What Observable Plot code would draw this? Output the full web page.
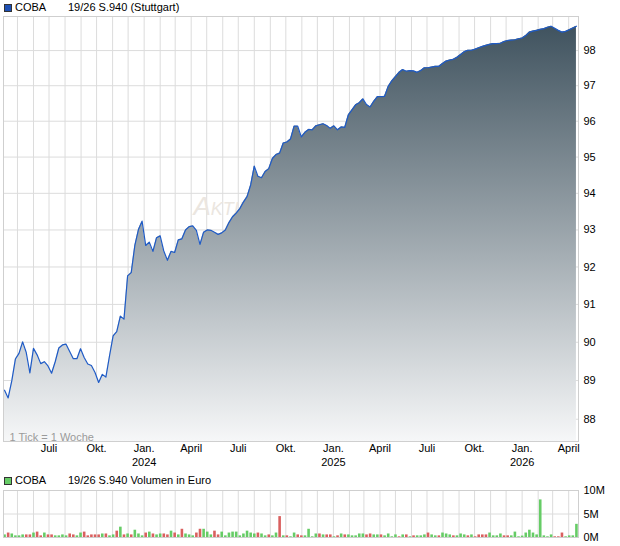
<!DOCTYPE html>
<html><head><meta charset="utf-8">
<script src="https://cdn.jsdelivr.net/npm/d3@7"></script>
<script src="https://cdn.jsdelivr.net/npm/@observablehq/plot@0.6"></script>
<style>
body{margin:0;background:#fff;font-family:"Liberation Sans",Arial,sans-serif;}
#wrap{position:relative;width:620px;height:546px;overflow:hidden;background:#fff}
.t{position:absolute;font-size:11px;line-height:13px;color:#000;white-space:nowrap}
.sq{position:absolute;width:6px;height:6px;border:1px solid #333}
#main,#vol{position:absolute;left:0}
#main{top:0}#vol{top:485px}
</style></head><body>
<div id="wrap">
  <div class="sq" style="left:4px;top:4px;background:#1d50b4"></div>
  <div class="t" style="left:15px;top:1px">COBA</div>
  <div class="t" style="left:68px;top:1px">19/26 S.940 (Stuttgart)</div>
  <div id="main"></div>
  <div class="sq" style="left:4px;top:477px;background:#66cc66"></div>
  <div class="t" style="left:15px;top:474px">COBA</div>
  <div class="t" style="left:68px;top:474px">19/26 S.940 Volumen in Euro</div>
  <div id="vol"></div>
</div>
<script>
// ---- data ----
const firstWeek = "2023-04-06";            // first weekly tick
const prices = [
88.75,88.55,88.99,89.56,89.71,90.01,89.73,89.20,89.84,89.67,
89.44,89.49,89.38,89.19,89.49,89.85,89.93,89.95,89.76,89.57,
89.57,89.83,89.60,89.43,89.39,89.21,88.95,89.16,89.09,89.64,
90.17,90.28,90.69,90.61,91.76,91.85,92.58,93.01,93.24,92.58,
92.67,92.42,92.79,92.84,92.43,92.18,92.42,92.39,92.73,92.76,
93.00,93.09,93.11,92.99,92.61,92.94,93.00,92.99,92.94,92.88,
92.92,93.00,93.20,93.36,93.46,93.58,93.76,93.91,94.23,94.75,
94.47,94.43,94.60,94.68,94.96,95.07,95.11,95.39,95.42,95.50,
95.86,95.86,95.56,95.69,95.77,95.76,95.87,95.90,95.93,95.88,
95.80,95.87,95.76,95.84,95.83,96.18,96.32,96.46,96.52,96.63,
96.47,96.40,96.56,96.69,96.69,96.70,96.98,97.14,97.26,97.38,
97.46,97.41,97.43,97.42,97.38,97.43,97.51,97.51,97.53,97.55,
97.55,97.63,97.70,97.73,97.75,97.81,97.89,97.97,98.01,98.01,
98.04,98.08,98.12,98.15,98.18,98.20,98.20,98.21,98.26,98.29,
98.30,98.31,98.34,98.36,98.43,98.53,98.56,98.58,98.61,98.63,
98.67,98.70,98.64,98.58,98.53,98.55,98.60,98.65,98.70];
const volumesM = [
.55,.95,.75,.35,.35,.55,.55,.55,.95,1.15,
.35,.95,.55,.55,.35,.35,.55,.35,.75,.55,
.35,.95,1.15,.35,.55,.55,.55,.75,.75,.35,
.55,1.35,2.2,.55,.75,.55,1.55,.75,.35,.95,
1.15,.75,.55,.75,.75,.55,1.35,.95,.55,1.75,
.75,.55,.35,.95,1.75,1.75,1.15,.55,1.35,.55,
1.15,.35,.95,1.15,1.15,.35,.75,1.35,.95,.75,
.95,.75,.35,.55,.35,.95,4.45,.35,.35,.15,
.95,.55,.35,.35,1.75,.15,.75,.75,.55,.55,
.55,.15,.35,.75,.55,.55,.35,.35,.75,.75,
.55,.75,.55,.55,.55,.35,.75,.15,.55,.15,
.55,.55,.15,.35,.35,.35,.55,.95,.55,.35,
.35,.95,.75,.55,.35,.35,.75,.55,.35,.55,
.15,.55,.55,.55,.95,.35,.35,.75,.35,.35,
.35,1.15,.15,.3,.95,1.55,.95,.55,8.0,.35,
.15,.55,.15,.15,.95,.15,.35,.35,2.8];
const volumeUp = [
1,0,1,1,1,1,0,0,1,0, 0,1,0,0,1,1,1,1,0,0,
1,1,0,0,0,0,0,1,0,1, 1,0,1,0,1,0,1,1,1,0,
1,0,1,1,0,0,1,0,1,0, 1,1,1,0,0,1,1,1,0,0,
1,1,1,1,1,1,1,1,1,1, 0,1,1,0,1,1,0,1,0,1,
1,0,0,1,1,1,1,0,1,0, 0,1,0,1,0,1,1,1,1,1,
0,0,1,1,0,1,1,1,1,0, 1,0,1,0,1,1,1,0,1,1,
0,1,1,1,0,1,1,1,0,1, 0,0,0,0,1,1,1,1,0,0,
1,1,1,1,1,1,1,1,1,1, 1,1,0,0,0,1,1,1,1];
const priceTicks = [88,89,90,91,92,93,94,95,96,97,98];
const volumeTicks = [0,5,10];
const quarterDates = ["2023-07-01","2023-10-01","2024-01-01","2024-04-01","2024-07-01","2024-10-01","2025-01-01","2025-04-01","2025-07-01","2025-10-01","2026-01-01","2026-04-01"];
const quarterLabels = ["Juli","Okt.","Jan.","April","Juli","Okt.","Jan.","April","Juli","Okt.","Jan.","April"];
const yearDates = ["2024-01-01","2025-01-01","2026-01-01"];
const yearLabels = ["2024","2025","2026"];
const xDomain = [new Date("2023-04-04"), new Date("2026-04-20")];
const yDomain = [87.43, 98.98];

// ---- tables ----
const start = new Date(firstWeek);
const rows = prices.map((p, i) => ({
  date: d3.utcDay.offset(start, 7 * i),
  price: p,
  vol: volumesM[i],
  color: volumeUp[i] ? "#66cc66" : "#d9605f"
}));
const quarters = quarterDates.map((d, i) => ({date: new Date(d), label: quarterLabels[i]}));
const years = yearDates.map((d, i) => ({date: new Date(d), label: yearLabels[i]}));
const months = d3.utcMonth.range(xDomain[0], xDomain[1]);

const font = {fontFamily: "Liberation Sans, Arial, sans-serif", fontSize: "11px", color: "#000", background: "transparent", overflow: "visible"};
const grid = {stroke: "#dcdcdc", strokeOpacity: 1};

const main = Plot.plot({
  width: 620, height: 475,
  marginLeft: 3, marginRight: 42, marginTop: 16, marginBottom: 34,
  style: font,
  x: {type: "utc", domain: xDomain, axis: null},
  y: {type: "log", domain: yDomain, axis: null},
  marks: [
    Plot.gridX(months, grid),
    Plot.gridY(priceTicks, grid),
    Plot.text(["Aktiencheck"], {frameAnchor: "top-left", dx: 190, dy: 190, textAnchor: "start", lineAnchor: "middle",
      fontSize: 26, fontStyle: "italic", fontVariant: "small-caps", fill: "#ebe6e0"}),
    Plot.areaY(rows, {x: "date", y1: yDomain[0], y2: "price", fill: "url(#pgrad)"}),
    Plot.lineY(rows, {x: "date", y: "price", stroke: "#1f5bc6", strokeWidth: 1.2}),
    Plot.frame({stroke: "#cfcfcf"}),
    Plot.axisY(priceTicks, {anchor: "right", label: null, tickSize: 0, tickPadding: 5, tickFormat: d => String(d)}),
    Plot.text(quarters, {x: "date", text: "label", frameAnchor: "bottom", lineAnchor: "top", dy: 3}),
    Plot.text(years, {x: "date", text: "label", frameAnchor: "bottom", lineAnchor: "top", dy: 17}),
    Plot.text(["1 Tick = 1 Woche"], {frameAnchor: "bottom-left", textAnchor: "start", lineAnchor: "bottom", dx: 6, dy: -1, fill: "#9a9a9a"})
  ]
});
const ns = "http://www.w3.org/2000/svg";
const defs = document.createElementNS(ns, "defs");
defs.innerHTML = '<linearGradient id="pgrad" x1="0" y1="0" x2="0" y2="1"><stop offset="0" stop-color="#40535f"/><stop offset="1" stop-color="#f6f7f8"/></linearGradient>';
main.insertBefore(defs, main.firstChild);
document.getElementById("main").appendChild(main);

const vol = Plot.plot({
  width: 620, height: 58,
  marginLeft: 3, marginRight: 42, marginTop: 5, marginBottom: 6,
  style: font,
  x: {type: "utc", domain: xDomain, axis: null},
  y: {domain: [0, 10], axis: null},
  color: {type: "identity"},
  marks: [
    Plot.gridX(months, grid),
    Plot.gridY(volumeTicks, grid),
    Plot.ruleX(rows, {x: "date", y1: 0, y2: "vol", stroke: "color", strokeWidth: 2.6}),
    Plot.frame({stroke: "#cfcfcf"}),
    Plot.axisY(volumeTicks, {anchor: "right", label: null, tickSize: 0, tickPadding: 5, tickFormat: d => d + "M"})
  ]
});
document.getElementById("vol").appendChild(vol);
</script>
</body></html>
